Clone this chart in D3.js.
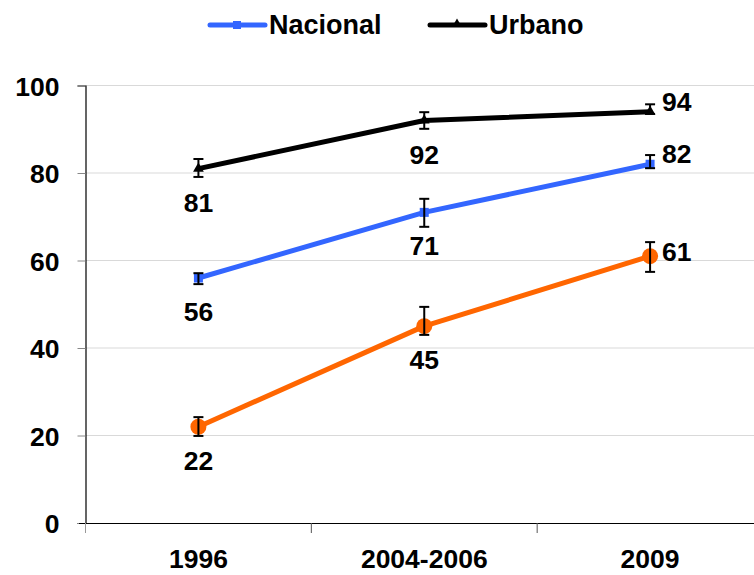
<!DOCTYPE html>
<html><head><meta charset="utf-8">
<script src="https://cdn.jsdelivr.net/npm/d3@7"></script>
<style>body{margin:0;background:#fff}svg{display:block}text{font-family:"Liberation Sans",Arial,sans-serif;font-weight:bold;fill:#000}</style>
</head><body><svg id="c" width="754" height="575"></svg>
<script>
const categories = ["1996", "2004-2006", "2009"];
const yTicks = [0, 20, 40, 60, 80, 100];
const urbanoValues = [81, 92, 94];
const urbanoLow = [79.1, 90.1, 93.5];
const urbanoHigh = [83.2, 93.9, 95.7];
const nacionalValues = [56, 71, 82];
const nacionalLow = [54.6, 67.7, 81.1];
const nacionalHigh = [57.1, 74.1, 84.1];
const ruralValues = [22, 45, 61];
const ruralLow = [19.9, 43, 57.4];
const ruralHigh = [24.2, 49.4, 64.2];
const labelValues = {urbano:[81,92,94], nacional:[56,71,82], rural:[22,45,61]};

const svg = d3.select("#c");
const L = 85.5, R = 763, T = 85.5, B = 523;
const x = d3.scaleBand().domain(categories).range([L, R]);
const y = d3.scaleLinear().domain([0, 100]).range([B, T]);
const cx = c => x(c) + x.bandwidth()/2;
const FS = "26.5px";

// grid
svg.append("g").selectAll("line").data(yTicks.filter(d=>d>0)).join("line")
  .attr("x1", L).attr("x2", 754).attr("y1", d=>y(d)).attr("y2", d=>y(d))
  .attr("stroke", "#d9d9d9").attr("stroke-width", 1);

// y axis
const ya = svg.append("g").attr("transform", `translate(${L},0)`)
  .call(d3.axisLeft(y).tickValues(yTicks).tickSize(8).tickPadding(18));
ya.select(".domain").attr("stroke", "#000").attr("stroke-width", 1.2);
ya.selectAll(".tick line").attr("stroke", "#888");
ya.selectAll(".tick text").style("font-size", FS).attr("dy", "0.36em");

// x axis
const xa = svg.append("g").attr("transform", `translate(0,${B})`)
  .call(d3.axisBottom(x).tickSize(0).tickPadding(26));
xa.select(".domain").attr("stroke", "#000").attr("stroke-width", 1.2).attr("d", `M79,0.5H754`);
xa.selectAll(".tick text").style("font-size", FS);
svg.append("g").selectAll("line").data(categories).join("line")
  .attr("x1", d=>x(d)).attr("x2", d=>x(d)).attr("y1", B).attr("y2", B+10)
  .attr("stroke", (d,i)=> i===0 ? "#999" : "#555").attr("stroke-width", 1);

const series = [
  {key:"rural", vals:ruralValues, lo:ruralLow, hi:ruralHigh, color:"#FF6600", marker:"circle"},
  {key:"nacional", vals:nacionalValues, lo:nacionalLow, hi:nacionalHigh, color:"#3366FF", marker:"square"},
  {key:"urbano", vals:urbanoValues, lo:urbanoLow, hi:urbanoHigh, color:"#000000", marker:"triangle"}
];

const line = d3.line().x((d,i)=>cx(categories[i])).y(d=>y(d));
series.forEach(s => {
  const g = svg.append("g");
  g.append("path").datum(s.vals).attr("d", line).attr("fill","none")
    .attr("stroke", s.color).attr("stroke-width", 5).attr("stroke-linejoin","round");
  s.vals.forEach((v,i) => {
    const px = cx(categories[i]), py = y(v);
    if (s.marker === "circle") g.append("circle").attr("cx",px).attr("cy",py).attr("r",8).attr("fill",s.color);
    else if (s.marker === "square") g.append("rect").attr("x",px-4.5).attr("y",py-4.5).attr("width",9).attr("height",9).attr("fill",s.color);
    else g.append("path").attr("d", d3.symbol().type(d3.symbolTriangle).size(50)()).attr("transform",`translate(${px},${py})`).attr("fill",s.color);
  });
  s.vals.forEach((v,i) => {
    const px = cx(categories[i]);
    const e = g.append("g").attr("stroke","#000").attr("stroke-width",2);
    e.append("line").attr("x1",px).attr("x2",px).attr("y1",y(s.lo[i])).attr("y2",y(s.hi[i]));
    e.append("line").attr("x1",px-5).attr("x2",px+5).attr("y1",y(s.lo[i])).attr("y2",y(s.lo[i]));
    e.append("line").attr("x1",px-5).attr("x2",px+5).attr("y1",y(s.hi[i])).attr("y2",y(s.hi[i]));
  });
  labelValues[s.key].forEach((v,i) => {
    const px = cx(categories[i]), py = y(s.vals[i]);
    const t = g.append("text").text(v).style("font-size",FS);
    if (i < 2) t.attr("x", px).attr("y", py + 43).attr("text-anchor","middle");
    else t.attr("x", px + 12).attr("y", py + (s.key==="rural"?5:-1)).attr("text-anchor","start");
  });
});

// legend
const leg = [{name:"Nacional", color:"#3366FF", x:210, marker:"square"}, {name:"Urbano", color:"#000", x:430, marker:"triangle"}];
leg.forEach(l => {
  const g = svg.append("g");
  g.append("line").attr("x1",l.x).attr("x2",l.x+55).attr("y1",25).attr("y2",25).attr("stroke",l.color).attr("stroke-width",5).attr("stroke-linecap","round");
  if (l.marker==="square") g.append("rect").attr("x",l.x+23).attr("y",21).attr("width",8).attr("height",8).attr("fill",l.color);
  else g.append("path").attr("d", d3.symbol().type(d3.symbolTriangle).size(40)()).attr("transform",`translate(${l.x+27},24)`).attr("fill",l.color);
  g.append("text").attr("x", l.x+59).attr("y", 34).text(l.name).style("font-size","27px");
});
</script></body></html>
